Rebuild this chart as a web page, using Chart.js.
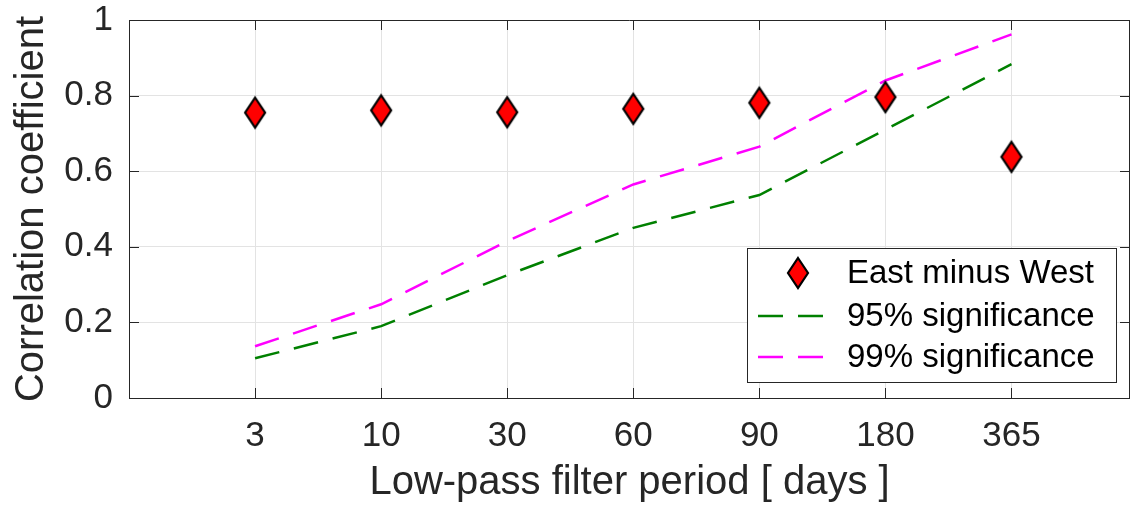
<!DOCTYPE html>
<html>
<head>
<meta charset="utf-8">
<script src="https://cdn.jsdelivr.net/npm/chart.js@4/dist/chart.umd.min.js"></script>
<style>
  html, body { margin: 0; padding: 0; background: #fff; }
  #wrap { width: 1130px; height: 510px; }
</style>
</head>
<body>
<div id="wrap"><canvas id="corrChart" width="1130" height="510"></canvas></div>
<script>
// values
const periods = ['3', '10', '30', '60', '90', '180', '365'];
const eastMinusWest = [0.755, 0.761, 0.756, 0.765, 0.781, 0.796, 0.638];
const sig95 = [0.105, 0.190, 0.325, 0.450, 0.537, 0.710, 0.883];
const sig99 = [0.137, 0.248, 0.415, 0.565, 0.665, 0.840, 0.962];
const yTicks = [0, 0.2, 0.4, 0.6, 0.8, 1];

const FONT = '"Liberation Sans", Arial, Helvetica, sans-serif';
const AXIS_COLOR = '#262626';

function makeDiamond() {
    const c = document.createElement('canvas');
    c.width = 26;
    c.height = 36;
    const g = c.getContext('2d');
    g.beginPath();
    g.moveTo(13, 3);
    g.lineTo(23, 18);
    g.lineTo(13, 33);
    g.lineTo(3, 18);
    g.closePath();
    g.fillStyle = '#ff0000';
    g.fill();
    g.lineWidth = 2.2;
    g.strokeStyle = '#000';
    g.lineJoin = 'miter';
    g.stroke();
    return c;
}
const diamond = makeDiamond();

function toPoints(arr) {
    return arr.map((v, i) => ({ x: i, y: v }));
}

// box, inward ticks and legend, drawn like the original axes
const boxPlugin = {
    id: 'boxPlugin',
    afterDatasetsDraw(chart) {
        const { ctx, chartArea: a, scales } = chart;
        ctx.save();
        ctx.strokeStyle = AXIS_COLOR;
        ctx.lineWidth = 1;
        ctx.beginPath();
        ctx.moveTo(a.left, a.top + 0.5);
        ctx.lineTo(a.right, a.top + 0.5);
        ctx.moveTo(a.right - 0.5, a.top);
        ctx.lineTo(a.right - 0.5, a.bottom);
        scales.x.ticks.forEach(t => {
            const px = Math.round(scales.x.getPixelForValue(t.value)) + 0.5;
            ctx.moveTo(px, a.bottom);
            ctx.lineTo(px, a.bottom - 10);
            ctx.moveTo(px, a.top);
            ctx.lineTo(px, a.top + 10);
        });
        scales.y.ticks.forEach(t => {
            const py = Math.round(scales.y.getPixelForValue(t.value)) + 0.5;
            ctx.moveTo(a.left, py);
            ctx.lineTo(a.left + 10, py);
            ctx.moveTo(a.right, py);
            ctx.lineTo(a.right - 10, py);
        });
        ctx.stroke();

        // legend
        const lx = 747, ly = 248, lw = 369, lh = 134;
        ctx.fillStyle = '#fff';
        ctx.fillRect(lx, ly, lw, lh);
        ctx.strokeStyle = AXIS_COLOR;
        ctx.strokeRect(lx + 0.5, ly + 0.5, lw, lh);
        const rows = [273, 316, 357];
        ctx.font = '33px ' + FONT;
        ctx.textBaseline = 'middle';
        ctx.textAlign = 'left';
        chart.data.datasets.forEach((ds, i) => {
            const y = rows[i];
            if (ds.pointStyle === diamond) {
                ctx.drawImage(diamond, 798 - 13, y - 18);
            } else {
                ctx.save();
                ctx.strokeStyle = ds.borderColor;
                ctx.lineWidth = ds.borderWidth;
                ctx.setLineDash(ds.borderDash);
                ctx.beginPath();
                ctx.moveTo(758, y);
                ctx.lineTo(828, y);
                ctx.stroke();
                ctx.restore();
            }
            ctx.fillStyle = '#000';
            ctx.fillText(ds.label, 847, y + 1);
        });
        ctx.restore();
    }
};

new Chart(document.getElementById('corrChart'), {
    type: 'scatter',
    data: {
        datasets: [{
            label: 'East minus West',
            data: toPoints(eastMinusWest),
            pointStyle: diamond,
            pointRadius: 13,
            showLine: false,
            order: 0
        }, {
            label: '95% significance',
            data: toPoints(sig95),
            showLine: true,
            borderColor: '#008000',
            borderWidth: 2.5,
            borderDash: [25, 15],
            pointRadius: 0,
            fill: false,
            order: 1
        }, {
            label: '99% significance',
            data: toPoints(sig99),
            showLine: true,
            borderColor: '#ff00ff',
            borderWidth: 2.5,
            borderDash: [25, 15],
            pointRadius: 0,
            fill: false,
            order: 2
        }]
    },
    options: {
        responsive: false,
        animation: false,
        layout: { autoPadding: false, padding: { top: 20, right: 0, left: 0, bottom: 0 } },
        plugins: {
            legend: { display: false },
            tooltip: { enabled: false }
        },
        scales: {
            x: {
                type: 'linear',
                min: -1,
                max: 6.94,
                afterBuildTicks: scale => {
                    scale.ticks = periods.map((_, i) => ({ value: i }));
                },
                afterFit: scale => {
                    scale.height = 112;
                    scale.paddingLeft = 0;
                    scale.paddingRight = 0;
                },
                ticks: {
                    callback: v => periods[v],
                    color: AXIS_COLOR,
                    font: { family: FONT, size: 35 },
                    padding: 17,
                    maxRotation: 0,
                    autoSkip: false
                },
                grid: { color: '#e3e3e3', lineWidth: 1, drawTicks: false },
                border: { color: AXIS_COLOR, width: 1 },
                title: {
                    display: true,
                    text: 'Low-pass filter period [ days ]',
                    color: AXIS_COLOR,
                    font: { family: FONT, size: 40 },
                    padding: { top: 0, bottom: 3 }
                }
            },
            y: {
                min: 0,
                max: 1,
                afterBuildTicks: scale => {
                    scale.ticks = yTicks.map(v => ({ value: v }));
                },
                afterFit: scale => {
                    scale.width = 129;
                    scale.paddingTop = 0;
                    scale.paddingBottom = 0;
                },
                ticks: {
                    callback: v => String(v),
                    color: AXIS_COLOR,
                    font: { family: FONT, size: 35 },
                    padding: 16
                },
                grid: { color: '#e3e3e3', lineWidth: 1, drawTicks: false },
                border: { color: AXIS_COLOR, width: 1 },
                title: {
                    display: true,
                    text: 'Correlation coefficient',
                    color: AXIS_COLOR,
                    font: { family: FONT, size: 40 },
                    padding: { top: 8, bottom: 0 }
                }
            }
        }
    },
    plugins: [boxPlugin]
});
</script>
</body>
</html>
